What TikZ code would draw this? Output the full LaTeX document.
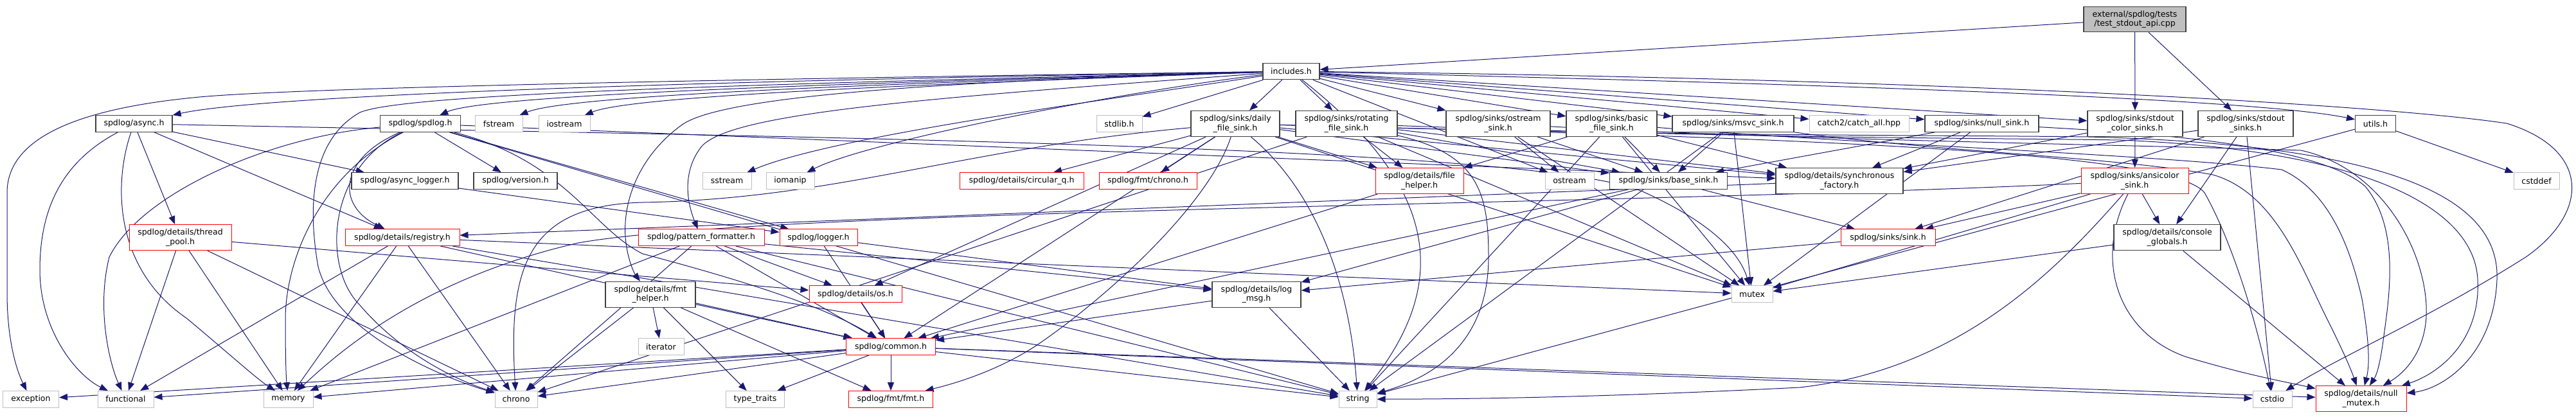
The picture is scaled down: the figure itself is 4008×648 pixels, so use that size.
\documentclass[tikz,border=0pt]{standalone}
\usepackage{fontspec}
\newfontfamily\djv{DejaVu Sans}
\usetikzlibrary{arrows.meta}
\definecolor{edgec}{HTML}{191970}
\definecolor{gtf}{HTML}{404040}
\definecolor{gsf}{HTML}{BFBFBF}
\definecolor{rdc}{HTML}{FF0000}
\pgfdeclarelayer{bg}
\pgfsetlayers{bg,main}
\tikzset{
  box/.style={draw, rectangle, inner sep=0pt, align=center, fill=white, line width=1pt,
    font=\djv\fontsize{12.5}{14.5}\selectfont},
  one/.style={minimum height=25.5pt},
  two/.style={minimum height=40pt},
  blk/.style={box, draw=gtf, line width=1.2pt},
  redb/.style={box, draw=rdc},
  gry/.style={box, draw=gsf},
  root/.style={box, draw=gtf, fill=gsf, line width=1.2pt},
  dep/.style={draw=edgec, line width=1pt, -{Triangle[length=13pt,width=10pt]}},
}
\begin{document}
\begin{tikzpicture}[x=1pt,y=-1pt]
\useasboundingbox (0,0) rectangle (4008,648);
% top
\node[root, minimum width=159pt, minimum height=39pt] (ext) at (3321.5,30) {external/spdlog/tests\\/test\_stdout\_api.cpp};
\node[blk, one, minimum width=88pt] (inc) at (2009,111) {includes.h};
% row 2
\node[blk, one, minimum width=119pt] (async) at (208.5,192.5) {spdlog/async.h};
\node[blk, one, minimum width=125pt] (spdlogh) at (654,192.5) {spdlog/spdlog.h};
\node[gry, one, minimum width=74pt] (fstream) at (776,192.5) {fstream};
\node[gry, one, minimum width=80pt] (iostream) at (878,192.5) {iostream};
\node[gry, one, minimum width=71pt] (stdlib) at (1741.5,192.5) {stdlib.h};
\node[blk, two, minimum width=138pt] (daily) at (1922,192.5) {spdlog/sinks/daily\\\_file\_sink.h};
\node[blk, two, minimum width=158pt] (rotating) at (2095,192.5) {spdlog/sinks/rotating\\\_file\_sink.h};
\node[blk, two, minimum width=162pt] (ostreamsink) at (2331,192.5) {spdlog/sinks/ostream\\\_sink.h};
\node[blk, two, minimum width=141pt] (basic) at (2507.5,192.5) {spdlog/sinks/basic\\\_file\_sink.h};
\node[blk, one, minimum width=189pt] (msvc) at (2696.5,192.5) {spdlog/sinks/msvc\_sink.h};
\node[gry, one, minimum width=155pt] (catch) at (2892.5,192.5) {catch2/catch\_all.hpp};
\node[blk, one, minimum width=177pt] (nullsink) at (3083.5,192.5) {spdlog/sinks/null\_sink.h};
\node[blk, two, minimum width=148pt] (stdoutcolor) at (3322,192.5) {spdlog/sinks/stdout\\\_color\_sinks.h};
\node[blk, two, minimum width=148pt] (stdout) at (3494,192.5) {spdlog/sinks/stdout\\\_sinks.h};
\node[blk, one, minimum width=63pt] (utils) at (3696,192.5) {utils.h};
% row 3
\node[blk, one, minimum width=166pt] (asynclogger) at (630,281.5) {spdlog/async\_logger.h};
\node[blk, one, minimum width=130pt] (version) at (802,281.5) {spdlog/version.h};
\node[gry, one, minimum width=76pt] (sstream) at (1131,281.5) {sstream};
\node[gry, one, minimum width=75pt] (iomanip) at (1229.5,281.5) {iomanip};
\node[redb, one, minimum width=193pt] (circq) at (1589.5,281.5) {spdlog/details/circular\_q.h};
\node[redb, one, minimum width=152pt] (fmtchrono) at (1786,281.5) {spdlog/fmt/chrono.h};
\node[redb, two, minimum width=137pt] (filehelper) at (2208.5,281.5) {spdlog/details/file\\\_helper.h};
\node[gry, one, minimum width=76pt] (ostream) at (2442,281.5) {ostream};
\node[blk, one, minimum width=183pt] (basesink) at (2596,281.5) {spdlog/sinks/base\_sink.h};
\node[blk, two, minimum width=198pt] (syncfac) at (2862,281.5) {spdlog/details/synchronous\\\_factory.h};
\node[redb, two, minimum width=167pt] (ansicolor) at (3321.5,281.5) {spdlog/sinks/ansicolor\\\_sink.h};
\node[gry, one, minimum width=71pt] (cstddef) at (3946.5,281.5) {cstddef};
% row 4
\node[redb, two, minimum width=159pt] (threadpool) at (280.5,369.7) {spdlog/details/thread\\\_pool.h};
\node[redb, one, minimum width=178pt] (registry) at (626,369.7) {spdlog/details/registry.h};
\node[redb, one, minimum width=196pt] (patfmt) at (1091,369.7) {spdlog/pattern\_formatter.h};
\node[redb, one, minimum width=121pt] (logger) at (1273.5,369.7) {spdlog/logger.h};
\node[redb, one, minimum width=147pt] (sink) at (2937.5,369.7) {spdlog/sinks/sink.h};
\node[blk, two, minimum width=166pt] (consoleglob) at (3372,369.7) {spdlog/details/console\\\_globals.h};
% row 5
\node[blk, two, minimum width=140pt] (fmthelper) at (1012,458.3) {spdlog/details/fmt\\\_helper.h};
\node[redb, one, minimum width=144pt] (os) at (1331,457.7) {spdlog/details/os.h};
\node[blk, two, minimum width=138pt] (logmsg) at (1955,458.3) {spdlog/details/log\\\_msg.h};
\node[gry, one, minimum width=64pt] (mutex) at (2726,457.7) {mutex};
% row 6
\node[gry, one, minimum width=71pt] (iterator) at (1028.5,539.7) {iterator};
\node[redb, one, minimum width=139pt] (common) at (1386,539.7) {spdlog/common.h};
% row 7
\node[gry, one, minimum width=87pt] (exception) at (48,621.3) {exception};
\node[gry, one, minimum width=87pt] (functional) at (195.5,621.3) {functional};
\node[gry, one, minimum width=77pt] (memory) at (448.5,621.3) {memory};
\node[gry, one, minimum width=66pt] (chrono) at (803,621.3) {chrono};
\node[gry, one, minimum width=91pt] (typetraits) at (1175,621.3) {type\_traits};
\node[redb, one, minimum width=131pt] (fmth) at (1386,621.3) {spdlog/fmt/fmt.h};
\node[gry, one, minimum width=59pt] (string) at (2112.5,621.3) {string};
\node[gry, one, minimum width=61pt] (cstdio) at (3535.5,621.3) {cstdio};
\node[redb, minimum height=40pt, minimum width=141pt] (nullmutex) at (3673.5,620.7) {spdlog/details/null\\\_mutex.h};

\begin{pgfonlayer}{bg}
% external
\draw[dep] (ext) -- (inc);
\draw[dep] (ext) -- (stdoutcolor);
\draw[dep] (ext) -- (stdout);
% includes.h
\draw[dep] (inc) .. controls (1200,122) and (450,136) .. (300,152) .. controls (120,170) and (11,215) .. (11,300) -- (11,455) .. controls (11,540) and (30,585) .. (exception);
\draw[dep] (inc) .. controls (1000,127) and (400,150) .. (async);
\draw[dep] (inc) .. controls (1200,132) and (750,150) .. (spdlogh);
\draw[dep] (inc) .. controls (1300,132) and (880,150) .. (fstream);
\draw[dep] (inc) .. controls (1400,132) and (980,150) .. (iostream);
\draw[dep] (inc) .. controls (1000,134) and (620,150) .. (560,175) .. controls (480,220) and (480,330) .. (495,415) .. controls (520,515) and (680,585) .. (chrono);
\draw[dep] (inc) -- (stdlib);
\draw[dep] (inc) -- (daily);
\draw[dep] (inc) -- (rotating);
\draw[dep] (inc) .. controls (1750,152) and (1300,210) .. (sstream);
\draw[dep] (inc) .. controls (1750,142) and (1350,220) .. (iomanip);
\draw[dep] (inc) .. controls (1450,152) and (1130,175) .. (1090,230) .. controls (1060,270) and (1070,318) .. (patfmt);
\draw[dep] (inc) .. controls (1450,127) and (1120,150) .. (1060,195) .. controls (985,250) and (965,330) .. (975,385) .. controls (980,415) and (990,430) .. (fmthelper);
\draw[dep] (inc) .. controls (2250,300) and (2250,450) .. (string);
\draw[dep] (inc) -- (ostream);
\draw[dep] (inc) -- (ostreamsink);
\draw[dep] (inc) -- (basic);
\draw[dep] (inc) -- (msvc);
\draw[dep] (inc) -- (catch);
\draw[dep] (inc) -- (nullsink);
\draw[dep] (inc) -- (stdoutcolor);
\draw[dep] (inc) .. controls (2800,130) and (3500,152) .. (utils);
\draw[dep] (inc) .. controls (3000,122) and (3700,162) .. (3900,192) .. controls (4030,232) and (4030,330) .. (3930,400) .. controls (3780,495) and (3640,555) .. (cstdio);
% async.h
\draw[dep] (async) -- (asynclogger);
\draw[dep] (async) -- (registry);
\draw[dep] (async) -- (threadpool);
\draw[dep] (async) .. controls (100,250) and (62,320) .. (62,420) .. controls (62,515) and (120,585) .. (functional);
\draw[dep] (async) .. controls (175,290) and (180,420) .. (290,495) .. controls (350,545) and (400,590) .. (memory);
\draw[dep] (async) .. controls (1200,213) and (2400,225) .. (2560,300) .. controls (2680,355) and (2710,405) .. (mutex);
% spdlog.h
\draw[dep] (spdlogh) .. controls (420,213) and (220,300) .. (170,400) .. controls (150,480) and (170,565) .. (functional);
\draw[dep] (spdlogh) .. controls (500,270) and (445,400) .. (444,495) .. controls (444,555) and (445,585) .. (memory);
\draw[dep] (spdlogh) .. controls (530,245) and (520,318) .. (registry);
\draw[dep] (spdlogh) .. controls (510,260) and (500,415) .. (560,475) .. controls (620,545) and (700,588) .. (chrono);
\draw[dep] (spdlogh) .. controls (880,250) and (920,355) .. (1000,395) .. controls (1150,435) and (1280,475) .. (common);
\draw[dep] (spdlogh) -- (string);
\draw[dep] (spdlogh) -- (logger);
\draw[dep] (spdlogh) -- (version);
\draw[dep] (spdlogh) -- (syncfac);
% async_logger, thread_pool, registry
\draw[dep] (asynclogger) -- (logger);
\draw[dep] (threadpool) -- (functional);
\draw[dep] (threadpool) -- (memory);
\draw[dep] (threadpool) -- (chrono);
\draw[dep] (threadpool) -- (os);
\draw[dep] (registry) -- (functional);
\draw[dep] (registry) -- (memory);
\draw[dep] (registry) -- (chrono);
\draw[dep] (registry) -- (common);
\draw[dep] (registry) -- (mutex);
\draw[dep] (registry) -- (string);
% logger, pattern_formatter, fmt_helper, os, common, log_msg
\draw[dep] (logger) -- (common);
\draw[dep] (logger) -- (logmsg);
\draw[dep] (patfmt) -- (common);
\draw[dep] (patfmt) -- (logmsg);
\draw[dep] (patfmt) -- (os);
\draw[dep] (patfmt) -- (chrono);
\draw[dep] (patfmt) -- (memory);
\draw[dep] (patfmt) -- (string);
\draw[dep] (fmthelper) -- (chrono);
\draw[dep] (fmthelper) -- (iterator);
\draw[dep] (fmthelper) -- (typetraits);
\draw[dep] (fmthelper) -- (fmth);
\draw[dep] (fmthelper) -- (common);
\draw[dep] (os) -- (common);
\draw[dep] (common) -- (nullmutex);
\draw[dep] (common) -- (chrono);
\draw[dep] (common) -- (cstdio);
\draw[dep] (common) -- (exception);
\draw[dep] (common) -- (functional);
\draw[dep] (common) -- (memory);
\draw[dep] (common) -- (string);
\draw[dep] (common) -- (typetraits);
\draw[dep] (common) -- (fmth);
\draw[dep] (logmsg) -- (common);
\draw[dep] (logmsg) -- (string);
% daily
\draw[dep] (daily) -- (common);
\draw[dep] (daily) -- (filehelper);
\draw[dep] (daily) -- (fmtchrono);
\draw[dep] (daily) -- (basesink);
\draw[dep] (daily) -- (os);
\draw[dep] (daily) -- (circq);
\draw[dep] (daily) -- (syncfac);
\draw[dep] (daily) -- (mutex);
\draw[dep] (daily) .. controls (1880,320) and (1720,465) .. (1612,538) .. controls (1540,585) and (1460,603) .. (fmth);
\draw[dep] (daily) .. controls (2050,300) and (2100,445) .. (string);
\draw[dep] (daily) .. controls (1500,230) and (1300,310) .. (1000,315) .. controls (820,320) and (790,415) .. (chrono);
\draw[dep] (daily) .. controls (2800,215) and (3380,235) .. (3430,300) .. controls (3470,370) and (3510,495) .. (cstdio);
\draw[dep] (daily) .. controls (2600,212) and (3000,210) .. (3250,213) .. controls (3700,225) and (3890,300) .. (3885,435) .. controls (3880,555) and (3800,605) .. (nullmutex);
% rotating
\draw[dep] (rotating) -- (basesink);
\draw[dep] (rotating) -- (filehelper);
\draw[dep] (rotating) -- (syncfac);
\draw[dep] (rotating) -- (chrono);
\draw[dep] (rotating) -- (mutex);
\draw[dep] (rotating) .. controls (2300,240) and (2316,300) .. (2316,400) .. controls (2316,555) and (2200,595) .. (string);
\draw[dep] (rotating) .. controls (2700,215) and (3100,215) .. (3300,218) .. controls (3700,235) and (3850,330) .. (3855,435) .. controls (3860,535) and (3790,583) .. (nullmutex);
% ostream sink
\draw[dep] (ostreamsink) -- (basesink);
\draw[dep] (ostreamsink) -- (mutex);
\draw[dep] (ostreamsink) -- (ostream);
\draw[dep] (ostreamsink) .. controls (2800,218) and (3300,225) .. (3580,234) .. controls (3700,260) and (3770,380) .. (3775,475) .. controls (3778,535) and (3750,575) .. (nullmutex);
% basic
\draw[dep] (basic) -- (filehelper);
\draw[dep] (basic) -- (basesink);
\draw[dep] (basic) -- (syncfac);
\draw[dep] (basic) -- (mutex);
\draw[dep] (basic) -- (string);
\draw[dep] (basic) .. controls (2900,225) and (3350,240) .. (3550,264) .. controls (3630,300) and (3660,400) .. (3675,465) .. controls (3685,525) and (3688,565) .. (nullmutex);
% msvc
\draw[dep] (msvc) -- (basesink);
\draw[dep] (msvc) -- (mutex);
\draw[dep] (msvc) -- (string);
\draw[dep] (msvc) .. controls (3000,235) and (3300,245) .. (3443,272) .. controls (3540,300) and (3580,415) .. (3620,495) .. controls (3645,545) and (3658,575) .. (nullmutex);
% null sink
\draw[dep] (nullsink) -- (basesink);
\draw[dep] (nullsink) -- (syncfac);
\draw[dep] (nullsink) -- (mutex);
\draw[dep] (nullsink) .. controls (3300,205) and (3600,220) .. (3680,290) .. controls (3730,350) and (3720,445) .. (3710,515) .. controls (3705,555) and (3700,580) .. (nullmutex);
% stdout sinks
\draw[dep] (stdoutcolor) -- (ansicolor);
\draw[dep] (stdoutcolor) -- (syncfac);
\draw[dep] (stdout) -- (consoleglob);
\draw[dep] (stdout) -- (syncfac);
\draw[dep] (stdout) -- (sink);
\draw[dep] (stdout) -- (cstdio);
% ansicolor
\draw[dep] (ansicolor) -- (consoleglob);
\draw[dep] (ansicolor) -- (sink);
\draw[dep] (ansicolor) -- (mutex);
\draw[dep] (ansicolor) .. controls (3260,400) and (3290,515) .. (3400,555) .. controls (3500,585) and (3560,595) .. (nullmutex);
\draw[dep] (ansicolor) .. controls (3200,420) and (3050,575) .. (2800,603) .. controls (2500,618) and (2300,621) .. (string);
\draw[dep] (ansicolor) .. controls (2500,320) and (1200,325) .. (900,378) .. controls (650,435) and (520,555) .. (memory);
% misc
\draw[dep] (consoleglob) -- (nullmutex);
\draw[dep] (consoleglob) -- (mutex);
\draw[dep] (basesink) -- (common);
\draw[dep] (basesink) -- (logmsg);
\draw[dep] (basesink) -- (sink);
\draw[dep] (syncfac) -- (registry);
\draw[dep] (sink) -- (logmsg);
\draw[dep] (filehelper) -- (common);
\draw[dep] (utils) -- (cstddef);
\draw[dep] (utils) -- (string);
\end{pgfonlayer}
\end{tikzpicture}
\end{document}
